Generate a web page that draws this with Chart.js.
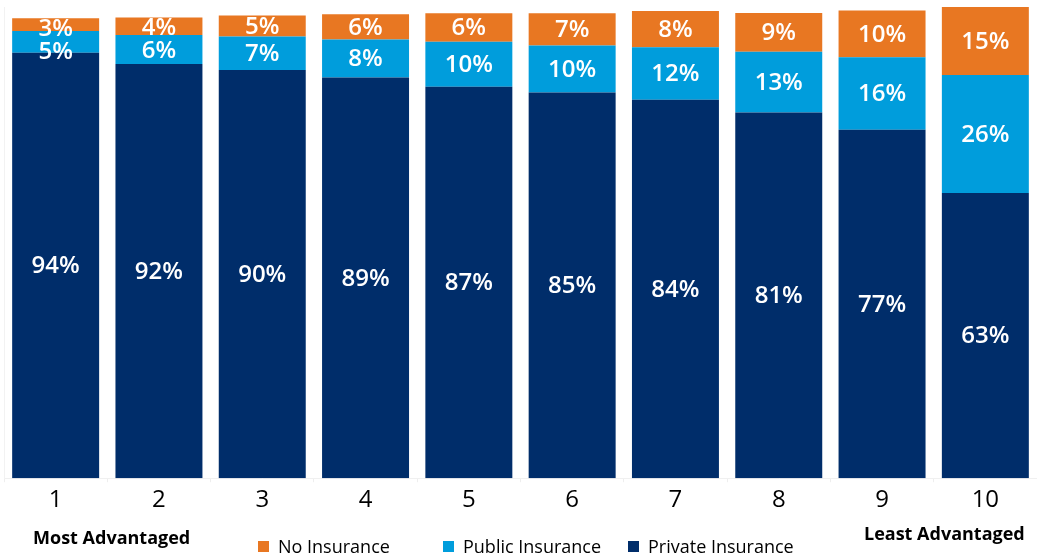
<!DOCTYPE html>
<html>
<head>
<meta charset="utf-8">
<script src="https://cdn.jsdelivr.net/npm/chart.js@4/dist/chart.umd.min.js"></script>
<style>
html,body{margin:0;padding:0;background:#fff;}
#wrap{position:relative;width:1037px;height:558px;}
</style>
</head>
<body>
<div id="wrap"><canvas id="c" width="1037" height="558"></canvas></div>
<script>
const categories = ["1","2","3","4","5","6","7","8","9","10"];
const privateIns = [94.0, 91.5, 90.2, 88.5, 86.5, 85.2, 83.6, 80.8, 77.0, 63.0];
const publicIns  = [4.8, 6.4, 7.4, 8.4, 9.9, 10.4, 11.6, 13.4, 16.0, 26.1];
const noIns      = [2.8, 3.9, 4.6, 5.6, 6.3, 7.1, 8.0, 8.6, 10.3, 15.0];
const seriesNames = ["Private Insurance", "Public Insurance", "No Insurance"];
const leftNote = "Most Advantaged";
const rightNote = "Least Advantaged";

const colors = ["#002D6A", "#009DDC", "#E87722"];
const FONT = "'Open Sans', 'DejaVu Sans', sans-serif";

const labelPlugin = {
  id: 'segLabels',
  afterDatasetsDraw(chart) {
    const ctx = chart.ctx;
    ctx.save();
    ctx.fillStyle = '#ffffff';
    ctx.font = "600 24px " + FONT;
    ctx.textAlign = 'center';
    ctx.textBaseline = 'middle';
    const H = 18, GAP = 5;
    const nSets = chart.data.datasets.length;
    chart.data.labels.forEach((_, i) => {
      let prev = null;
      // walk from the top segment down, keeping labels from overlapping
      for (let di = nSets - 1; di >= 0; di--) {
        const el = chart.getDatasetMeta(di).data[i];
        const top = Math.min(el.y, el.base);
        const segH = Math.abs(el.base - el.y);
        let cy = (el.y + el.base) / 2;
        if (segH < H) cy = Math.max(cy, top + H / 2 + 1);
        if (prev !== null) cy = Math.max(cy, prev + H + GAP);
        prev = cy;
        ctx.fillText(Math.round(chart.data.datasets[di].data[i]) + '%', el.x, cy + 1);
      }
    });
    ctx.restore();
  },
  afterDraw(chart) {
    const ctx = chart.ctx;
    const xs = chart.scales.x;
    ctx.save();
    // axis end notes
    ctx.fillStyle = '#000';
    ctx.font = "bold 18px " + FONT;
    ctx.textAlign = 'center';
    ctx.textBaseline = 'middle';
    ctx.fillText(leftNote, xs.getPixelForValue(0) + 56, 539);
    ctx.fillText(rightNote, xs.getPixelForValue(9) - 41, 535);
    // legend (top-of-stack first)
    const order = [2, 1, 0];
    const boxX = [258, 443, 628];
    ctx.font = "18px " + FONT;
    ctx.textAlign = 'left';
    order.forEach((di, k) => {
      const ds = chart.data.datasets[di];
      ctx.fillStyle = ds.backgroundColor;
      ctx.fillRect(boxX[k], 541, 11, 11);
      ctx.fillStyle = '#000';
      ctx.fillText(ds.label, boxX[k] + 20, 548);
    });
    ctx.restore();
  }
};

new Chart(document.getElementById('c'), {
  type: 'bar',
  data: {
    labels: categories,
    datasets: [
      { label: seriesNames[0], data: privateIns, backgroundColor: colors[0] },
      { label: seriesNames[1], data: publicIns, backgroundColor: colors[1] },
      { label: seriesNames[2], data: noIns, backgroundColor: colors[2] }
    ]
  },
  options: {
    responsive: false,
    animation: false,
    devicePixelRatio: 1,
    layout: { padding: { left: 4, right: 0, top: 7, bottom: 39 } },
    datasets: { bar: { barPercentage: 0.842, categoryPercentage: 1.0 } },
    scales: {
      x: {
        stacked: true,
        grid: { display: true, drawOnChartArea: false, drawTicks: true, tickLength: 4, color: '#eeeeee' },
        border: { display: true, color: '#f0f0f0' },
        ticks: { color: '#000', font: { family: FONT, size: 24 }, padding: 4 }
      },
      y: {
        stacked: true,
        display: true,
        min: 0,
        max: 104.1,
        ticks: { display: false },
        grid: { display: false, drawTicks: false },
        border: { display: true, color: '#f2f2f2' }
      }
    },
    plugins: {
      legend: { display: false },
      tooltip: { enabled: false }
    }
  },
  plugins: [labelPlugin]
});
</script>
</body>
</html>
